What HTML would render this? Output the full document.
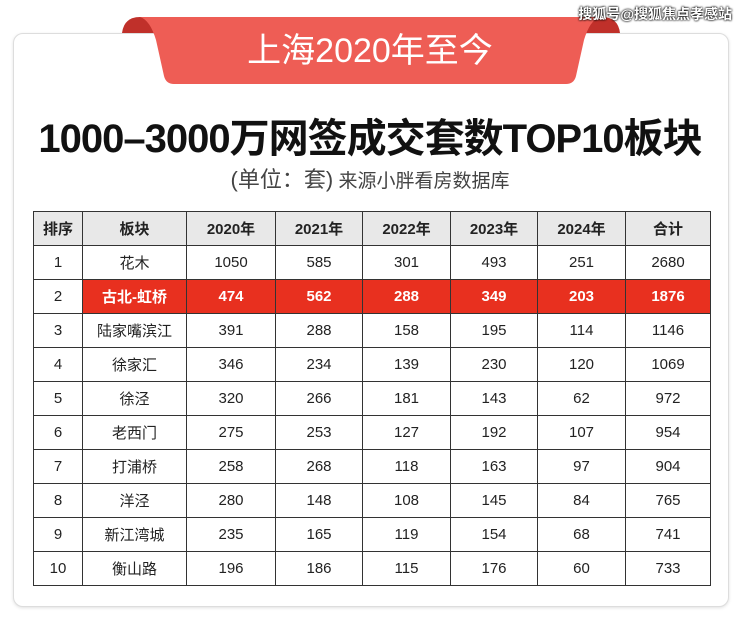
<!DOCTYPE html>
<html><head><meta charset="utf-8"><style>
body{margin:0;width:740px;height:622px;background:#fff;position:relative;overflow:hidden;font-family:"Liberation Sans","Noto Sans CJK SC",sans-serif;}
.card{position:absolute;left:13px;top:33px;width:714px;height:572px;border:1px solid #ddd;border-radius:10px;box-shadow:0 1px 3px rgba(0,0,0,0.12);background:#fff;}
.wm{position:absolute;right:8px;top:4px;font-size:14px;color:#fff;text-shadow:0 0 2px #000,0 0 2px #000;font-weight:bold;}
.title{position:absolute;left:0;width:740px;top:106px;text-align:center;font-size:40px;font-weight:bold;color:#111;letter-spacing:-1px;}
.sub{position:absolute;left:0;width:740px;top:162px;text-align:center;font-size:19px;color:#444;}
.sub span{font-size:22px;}
table{position:absolute;left:33px;top:211px;border-collapse:collapse;font-size:15px;color:#222;}
td{border:1.5px solid #333;text-align:center;height:33px;padding:0;}
tr.h td{background:#e8e8e8;font-weight:bold;}
tr.r td{background:#e8301f;color:#fff;font-weight:bold;}
tr.r td:first-child{background:#fff;color:#222;font-weight:normal;}
</style></head><body>
<div class="card"></div>
<svg style="position:absolute;left:0;top:0" width="740" height="100">
<path d="M122 33 Q124 17 140 17 L160 17 L160 33 Z" fill="#c0302a"/>
<path d="M620 33 Q618 17 602 17 L582 17 L582 33 Z" fill="#c0302a"/>
<path d="M140 17 L600 17 Q590 20 584 40 L576 76 Q574 84 566 84 L174 84 Q166 84 164 76 L156 40 Q150 20 140 17 Z" fill="#ee5d55"/>
<text x="370" y="62" text-anchor="middle" font-size="34" fill="#fff" font-family="Liberation Sans, Noto Sans CJK SC, sans-serif">上海2020年至今</text>
</svg>
<div class="wm">搜狐号@搜狐焦点孝感站</div>
<div class="title">1000–3000万网签成交套数TOP10板块</div>
<div class="sub"><span>(单位：套)</span> 来源小胖看房数据库</div>
<table>
<colgroup><col style="width:49px"><col style="width:104px"><col style="width:89px"><col style="width:87px"><col style="width:88px"><col style="width:87px"><col style="width:88px"><col style="width:85px"></colgroup>
<tr class="h"><td>排序</td><td>板块</td><td>2020年</td><td>2021年</td><td>2022年</td><td>2023年</td><td>2024年</td><td>合计</td></tr>
<tr><td>1</td><td>花木</td><td>1050</td><td>585</td><td>301</td><td>493</td><td>251</td><td>2680</td></tr>
<tr class="r"><td>2</td><td>古北-虹桥</td><td>474</td><td>562</td><td>288</td><td>349</td><td>203</td><td>1876</td></tr>
<tr><td>3</td><td>陆家嘴滨江</td><td>391</td><td>288</td><td>158</td><td>195</td><td>114</td><td>1146</td></tr>
<tr><td>4</td><td>徐家汇</td><td>346</td><td>234</td><td>139</td><td>230</td><td>120</td><td>1069</td></tr>
<tr><td>5</td><td>徐泾</td><td>320</td><td>266</td><td>181</td><td>143</td><td>62</td><td>972</td></tr>
<tr><td>6</td><td>老西门</td><td>275</td><td>253</td><td>127</td><td>192</td><td>107</td><td>954</td></tr>
<tr><td>7</td><td>打浦桥</td><td>258</td><td>268</td><td>118</td><td>163</td><td>97</td><td>904</td></tr>
<tr><td>8</td><td>洋泾</td><td>280</td><td>148</td><td>108</td><td>145</td><td>84</td><td>765</td></tr>
<tr><td>9</td><td>新江湾城</td><td>235</td><td>165</td><td>119</td><td>154</td><td>68</td><td>741</td></tr>
<tr><td>10</td><td>衡山路</td><td>196</td><td>186</td><td>115</td><td>176</td><td>60</td><td>733</td></tr>
</table>
</body></html>
